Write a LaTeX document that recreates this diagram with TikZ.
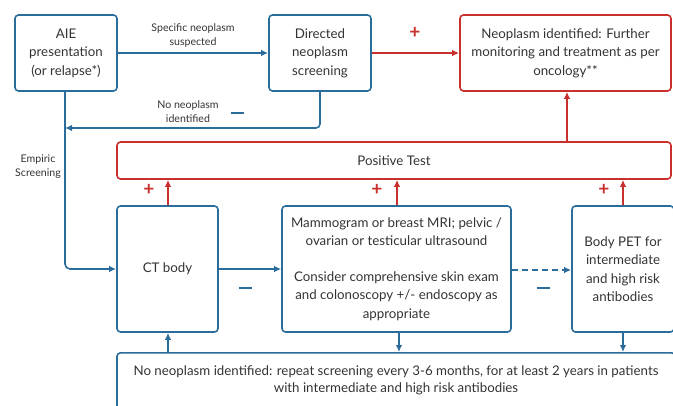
\documentclass[tikz,border=0pt]{standalone}
\usepackage{fontspec}
\setmainfont{Lato}
\usetikzlibrary{arrows.meta}
\definecolor{bl}{HTML}{2A6D9C}
\definecolor{rd}{HTML}{C9302C}
\definecolor{tx}{HTML}{333333}
\begin{document}
\begin{tikzpicture}[x=1pt,y=-1pt,
  box/.style={draw=#1,line width=1.6pt,rounded corners=3.5pt,inner sep=0pt,align=center,text=tx,font=\fontsize{13.3}{18.5}\selectfont},
  lab/.style={text=tx,align=center,font=\fontsize{10.6}{14}\selectfont},
  arr/.style={draw=#1,line width=1.6pt,-{Latex[length=7pt,width=6.5pt]}},
  plus/.style={text=rd,font=\bfseries\fontsize{19}{19}\selectfont},
  minus/.style={draw=bl,line width=2.2pt},
]
\useasboundingbox (0,0) rectangle (673,405);
\clip (0,0) rectangle (673,405);
\node[box=bl,minimum width=102pt,minimum height=76pt] (aie) at (66,53) {AIE\\presentation\\(or relapse*)};
\node[box=bl,minimum width=102pt,minimum height=76pt] (dir) at (320,53) {Directed\\neoplasm\\screening};
\node[box=rd,minimum width=211pt,minimum height=76pt] (neo) at (565.5,53) {Neoplasm identified: Further\\monitoring and treatment as per\\oncology**};
\node[box=rd,minimum width=554pt,minimum height=37pt] (pos) at (394,160.5) {Positive Test};
\node[box=bl,minimum width=101pt,minimum height=126pt] (ct) at (167.5,269) {CT body};
\node[box=bl,minimum width=229pt,minimum height=126pt] (mam) at (396.5,269) {Mammogram or breast MRI; pelvic /\\ovarian or testicular ultrasound\\[17pt]Consider comprehensive skin exam\\and colonoscopy +/- endoscopy as\\appropriate};
\node[box=bl,minimum width=102pt,minimum height=126pt] (pet) at (623,269) {Body PET for\\intermediate\\and high risk\\antibodies};
\node[box=bl,minimum width=558pt,minimum height=72pt,anchor=north] (bot) at (396,352) {};
\node[text=tx,align=center,font=\fontsize{13.3}{17}\selectfont] (bottxt) at (396,380.5) {No neoplasm identified: repeat screening every 3-6 months, for at least 2 years in patients\\with intermediate and high risk antibodies};

% top row
\draw[arr=bl] (aie.east) -- (dir.west);
\node[lab] (l1) at (193,36) {Specific neoplasm\\suspected};
\draw[arr=rd] (dir.east) -- (neo.west);
\node[plus] (p0) at (415,33) {+};
\coordinate (ret) at (65,128);
\draw[arr=bl,rounded corners=4pt] (dir.south) |- (ret);
\node[lab] (l2) at (188,112) {No neoplasm\\identified};
\node (m0) at (237,113) {};
\draw[minus] ([xshift=-6.5pt]m0.center) -- ([xshift=6.5pt]m0.center);
\node[lab] (l3) at (38,167) {Empiric\\Screening};
\draw[arr=bl,rounded corners=5pt] (aie.south -| ret) |- (ct.west);

% positive paths
\draw[arr=rd] (ct.north -| 168,0) -- (pos.south -| 168,0);
\draw[arr=rd] (mam.north -| 397,0) -- (pos.south -| 397,0);
\draw[arr=rd] (pet.north -| 623,0) -- (pos.south -| 623,0);
\draw[arr=rd] (pos.north -| 567,0) -- (neo.south -| 567,0);
\node[plus] (p1) at (149,190) {+};
\node[plus] (p2) at (377,190) {+};
\node[plus] (p3) at (604,190) {+};

% negative paths
\draw[arr=bl] (ct.east) -- (mam.west);
\node (m1) at (245,288) {};
\draw[minus] ([xshift=-6.5pt]m1.center) -- ([xshift=6.5pt]m1.center);
\draw[arr=bl,dashed,dash pattern=on 6pt off 4pt] ([yshift=-1pt]mam.east) -- ([yshift=-1pt]pet.west);
\node (m2) at (543,288) {};
\draw[minus] ([xshift=-6.5pt]m2.center) -- ([xshift=6.5pt]m2.center);
\draw[arr=bl] (bot.north -| 168,0) -- (ct.south -| 168,0);
\draw[arr=bl] (mam.south -| 399,0) -- (bot.north -| 399,0);
\draw[arr=bl] (pet.south -| 623,0) -- (bot.north -| 623,0);
\end{tikzpicture}
\end{document}
